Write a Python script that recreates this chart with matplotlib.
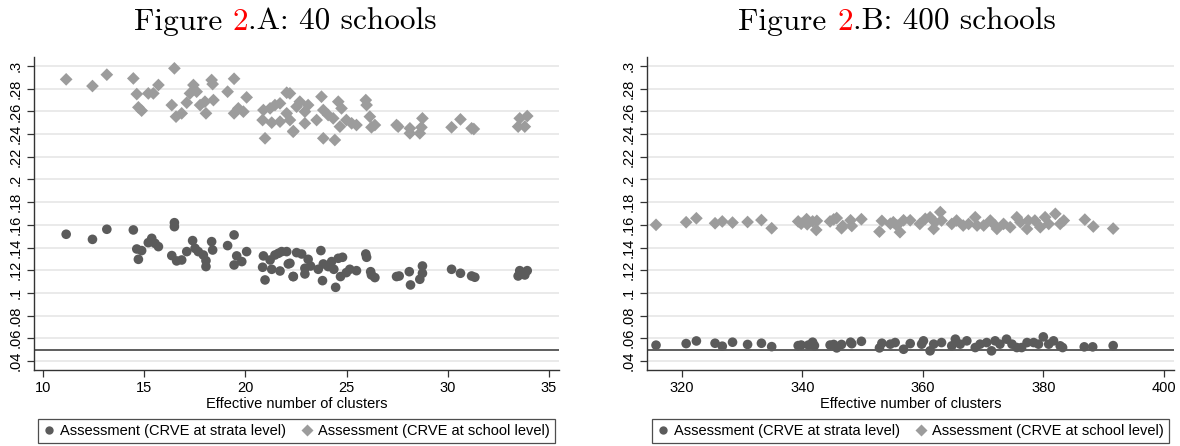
import numpy as np
import matplotlib
matplotlib.use("Agg")
import matplotlib.pyplot as plt
from matplotlib.offsetbox import TextArea, HPacker, AnnotationBbox
from matplotlib.lines import Line2D

plt.rcParams['font.family'] = ['Liberation Sans', 'DejaVu Sans']

# ---- Figure 2.A: 40 schools ----
a_strata_x = [11.14, 12.44, 13.15, 14.46, 14.63, 14.71, 14.87, 15.2, 15.37, 15.53, 15.7,
              16.36, 16.49, 16.49, 16.6, 16.85, 17.1, 17.39, 17.51, 17.67, 17.92, 18.05,
              18.05, 18.33, 18.38, 19.12, 19.44, 19.44, 19.57, 19.82, 20.06, 20.89, 20.85,
              20.97, 21.22, 21.3, 21.46, 21.63, 21.71, 21.79, 22.04, 22.12, 22.37, 22.53,
              22.2, 22.36, 22.78, 22.94, 22.94, 23.1, 23.22, 23.6, 23.73, 23.85, 23.81,
              24.09, 24.26, 24.37, 24.46, 24.59, 24.7, 24.8, 24.99, 25.16, 25.49, 25.95,
              25.99, 26.19, 26.23, 26.4, 27.47, 27.6, 28.1, 28.16, 28.62, 28.75, 28.75,
              30.19, 30.63, 31.18, 31.34, 33.48, 33.56, 33.81, 33.93]
a_strata_y = [.1517, .1472, .1561, .1555, .1387, .1296, .1373, .1443, .1481, .1437, .1408,
              .1329, .1619, .1584, .1282, .1290, .1364, .1461, .1393, .1364, .1334, .1284,
              .1232, .1452, .1378, .1417, .1511, .1246, .1326, .1276, .1364, .1326, .1226,
              .1114, .1290, .1208, .1334, .1349, .1193, .1364, .1364, .1255, .1144, .1355,
              .1261, .1144, .1343, .1217, .1167, .1296, .1237, .1208, .1373, .1255, .1108,
              .1232, .1276, .1208, .1049, .1305, .1144, .1314, .1179, .1208, .1196, .1343,
              .1314, .1187, .1158, .1135, .1144, .1149, .1187, .1070, .1120, .1173, .1237,
              .1208, .1173, .1149, .1138, .1149, .1196, .1158, .1196]

a_school_x = [11.14, 12.44, 13.15, 14.46, 14.63, 14.71, 14.87, 15.2, 15.45, 15.7, 16.36,
              16.49, 16.57, 16.85, 17.1, 17.26, 17.43, 17.59, 17.76, 18.0, 18.05, 18.33,
              18.38, 18.42, 19.12, 19.44, 19.44, 19.65, 19.9, 20.06, 20.89, 20.85, 20.97,
              21.22, 21.3, 21.46, 21.71, 21.71, 22.04, 22.04, 22.37, 22.53,
              22.2, 22.2, 22.36, 22.69, 22.94, 22.94, 23.1, 23.52, 23.76, 23.85, 23.85,
              24.09, 24.34, 24.42, 24.59, 24.67, 24.75, 24.99, 25.25, 25.49, 25.95, 25.99,
              26.15, 26.23, 26.4, 27.47, 27.55, 28.13, 28.13, 28.62, 28.7, 28.75, 30.19,
              30.63, 31.18, 31.29, 33.48, 33.56, 33.81, 33.93]
a_school_y = [.2883, .2824, .2924, .2891, .2753, .2636, .2607, .2759, .2759, .2833, .2656,
              .2980, .2554, .2583, .2677, .2759, .2833, .2774, .2656, .2686, .2583, .2877,
              .2841, .2700, .2774, .2888, .2583, .2627, .2598, .2724, .2612, .2524, .2363,
              .2627, .2501, .2656, .2671, .2510, .2765, .2583, .2427, .2642,
              .2759, .2524, .2421, .2686, .2598, .2495, .2656, .2524, .2730, .2612, .2363,
              .2568, .2539, .2348, .2686, .2466, .2627, .2524, .2495, .2480, .2700, .2656,
              .2554, .2460, .2480, .2480, .2466, .2451, .2407, .2407, .2460, .2539, .2460,
              .2530, .2451, .2445, .2466, .2539, .2466, .2559]

# ---- Figure 2.B: 400 schools ----
b_strata_x = [315.7, 320.7, 322.4, 325.5, 326.7, 328.4, 330.9, 333.2, 334.9, 339.3, 339.8,
              341.0, 341.7, 342.0, 344.6, 345.2, 345.7, 346.5, 348.0, 348.2, 349.8, 352.8,
              353.2, 354.6, 355.4, 356.8, 357.9, 359.8, 360.1, 361.2, 361.8, 363.1, 364.8,
              365.4, 366.2, 367.3, 368.7, 369.5, 370.6, 371.4, 372.0, 372.8, 373.9, 374.8,
              375.6, 376.4, 377.3, 378.4, 379.2, 380.0, 380.9, 381.7, 382.8, 383.2, 386.8,
              388.2, 391.6]
b_strata_y = [.0539, .0553, .0576, .0556, .0530, .0565, .0545, .0556, .0526, .0535, .0540,
              .0540, .0565, .0535, .0540, .0545, .0515, .0545, .0565, .0552, .0573, .0515,
              .0556, .0548, .0562, .0503, .0553, .0548, .0577, .0489, .0548, .0562, .0533,
              .0592, .0548, .0577, .0518, .0548, .0562, .0489, .0577, .0548, .0592, .0548,
              .0518, .0518, .0562, .0562, .0548, .0612, .0548, .0577, .0533, .0518, .0524,
              .0524, .0535]

b_school_x = [315.7, 320.7, 322.4, 325.5, 326.7, 328.4, 330.9, 333.2, 334.9, 339.3, 339.8,
              340.7, 340.8, 341.7, 342.3, 342.4, 344.6, 345.2, 345.7, 346.5, 346.7, 348.0,
              348.2, 349.8, 352.8, 353.2, 354.6, 355.1, 355.7, 356.2, 356.8, 357.9, 359.5,
              360.4, 361.2, 361.8, 362.0, 362.9, 363.1, 364.8, 365.6, 366.7, 367.6, 368.7,
              369.0, 370.1, 371.2, 372.0, 372.3, 373.4, 374.5, 375.6, 376.2, 377.3, 377.5,
              378.6, 379.5, 380.3, 380.9, 382.0, 382.8, 383.4, 386.9, 388.3, 391.6]
b_school_y = [.1600, .1623, .1658, .1614, .1630, .1620, .1625, .1642, .1570, .1630, .1610,
              .1650, .1605, .1630, .1555, .1635, .1630, .1648, .1660, .1570, .1590, .1640,
              .1590, .1650, .1540, .1635, .1610, .1623, .1594, .1535, .1640, .1640, .1608,
              .1653, .1667, .1564, .1623, .1712, .1638, .1608, .1638, .1594, .1608, .1667,
              .1594, .1594, .1638, .1594, .1564, .1608, .1579, .1667, .1623, .1564, .1638,
              .1638, .1579, .1667, .1608, .1697, .1608, .1638, .1646, .1585, .1567]

y_ticks = [.04, .06, .08, .1, .12, .14, .16, .18, .2, .22, .24, .26, .28, .3]
y_labels = ['.04', '.06', '.08', '.1', '.12', '.14', '.16', '.18', '.2', '.22', '.24',
            '.26', '.28', '.3']
a_xticks = [10, 15, 20, 25, 30, 35]
b_xticks = [320, 340, 360, 380, 400]
ref_line = 0.05

dark = '#5b5b5b'
light = '#9c9c9c'
strata_label = 'Assessment (CRVE at strata level)'
school_label = 'Assessment (CRVE at school level)'

fig = plt.figure(figsize=(11.8, 4.46), dpi=100)
W, H = 1180, 446


def px_axes(l, r, t, b):
    return fig.add_axes([l / W, 1 - b / H, (r - l) / W, (b - t) / H])


def panel(ax, sx, sy, dx, dy, xticks, xlim):
    ax.set_ylim(0.032, 0.308)
    ax.set_xlim(*xlim)
    ax.set_yticks(y_ticks)
    ax.set_yticklabels(y_labels, rotation=90, va='center')
    ax.set_xticks(xticks)
    ax.grid(axis='y', color='#e8e8e8', lw=1.3)
    ax.set_axisbelow(True)
    ax.axhline(ref_line, color='#333333', lw=1.1, zorder=1)
    ax.scatter(dx, dy, marker='D', s=42, color=light, edgecolors='none', zorder=3)
    ax.scatter(sx, sy, marker='o', s=48, color=dark, edgecolors='none', zorder=3)
    for sp in ['top', 'right']:
        ax.spines[sp].set_visible(False)
    for sp in ['left', 'bottom']:
        ax.spines[sp].set_color('#333333')
        ax.spines[sp].set_linewidth(1.0)
    ax.tick_params(direction='out', length=5, width=0.9, color='#333333',
                   labelsize=10.5, pad=3)
    ax.set_xlabel('Effective number of clusters', fontsize=10.5, labelpad=1)
    handles = [Line2D([], [], ls='none', marker='o', ms=6, color=dark, mec='none'),
               Line2D([], [], ls='none', marker='D', ms=6, color=light, mec='none')]
    leg = ax.legend(handles, [strata_label, school_label], loc='upper center',
                    bbox_to_anchor=(0.5, -0.132), ncol=2, fontsize=10.5, frameon=True,
                    fancybox=False, edgecolor='#222222', handlelength=0.8,
                    handletextpad=0.4, columnspacing=1.0, borderpad=0.35)
    leg.get_frame().set_linewidth(0.9)


ax1 = px_axes(34, 559, 57, 370)
panel(ax1, a_strata_x, a_strata_y, a_school_x, a_school_y, a_xticks, (9.55, 35.5))
ax2 = px_axes(647, 1174, 57, 370)
panel(ax2, b_strata_x, b_strata_y, b_school_x, b_school_y, b_xticks, (314.2, 401.7))


def title(xc, letter, n):
    tp = dict(fontfamily='cmr10', fontsize=22.5)
    parts = [TextArea('Figure ', textprops=dict(color='black', **tp)),
             TextArea('2', textprops=dict(color='red', **tp)),
             TextArea('.' + letter + ': ' + n + ' schools', textprops=dict(color='black', **tp))]
    box = HPacker(children=parts, align='baseline', pad=0, sep=0)
    ab = AnnotationBbox(box, (xc / W, 1 - 22 / H), xycoords='figure fraction',
                        frameon=False, box_alignment=(0.5, 0.5))
    fig.add_artist(ab)


title(285, 'A', '40')
title(897, 'B', '400')

fig.savefig('out.png', dpi=100)
